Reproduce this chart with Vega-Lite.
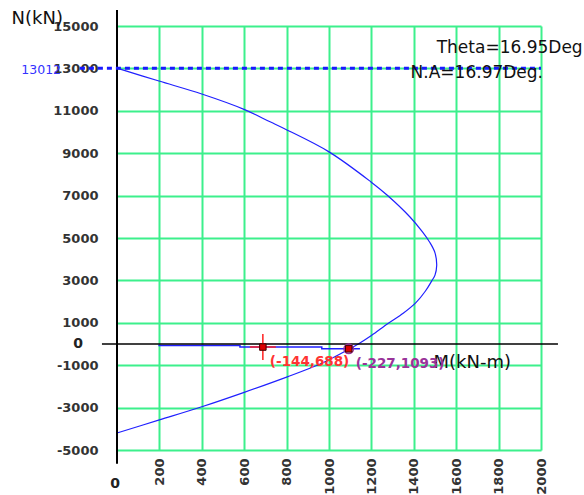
{
  "$schema": "https://vega.github.io/schema/vega-lite/v6.json",
  "width": 424,
  "height": 424,
  "autosize": "none",
  "padding": {"left": 117, "top": 26, "right": 43, "bottom": 45},
  "background": "white",
  "config": {"view": {"stroke": null}, "font": "DejaVu Sans"},
  "datasets": {
    "curve": [
      {"i": 0, "M": 0, "N": 13012},
      {"i": 1, "M": 198, "N": 12404},
      {"i": 2, "M": 400, "N": 11790},
      {"i": 3, "M": 599, "N": 11067},
      {"i": 4, "M": 722, "N": 10481},
      {"i": 5, "M": 797, "N": 10121},
      {"i": 6, "M": 1000, "N": 9063},
      {"i": 7, "M": 1198, "N": 7646},
      {"i": 8, "M": 1275, "N": 7017},
      {"i": 9, "M": 1382, "N": 5992},
      {"i": 10, "M": 1440, "N": 5300},
      {"i": 11, "M": 1475, "N": 4800},
      {"i": 12, "M": 1500, "N": 4300},
      {"i": 13, "M": 1508, "N": 3700},
      {"i": 14, "M": 1500, "N": 3250},
      {"i": 15, "M": 1484, "N": 2967},
      {"i": 16, "M": 1455, "N": 2500},
      {"i": 17, "M": 1410, "N": 1950},
      {"i": 18, "M": 1350, "N": 1450},
      {"i": 19, "M": 1280, "N": 980},
      {"i": 20, "M": 1200, "N": 400},
      {"i": 21, "M": 1138, "N": 0},
      {"i": 22, "M": 1050, "N": -480},
      {"i": 23, "M": 950, "N": -980},
      {"i": 24, "M": 800, "N": -1560},
      {"i": 25, "M": 600, "N": -2280},
      {"i": 26, "M": 400, "N": -2960},
      {"i": 27, "M": 200, "N": -3580},
      {"i": 28, "M": 0, "N": -4196}
    ],
    "flat": [
      {"i": 0, "M": 195, "N": -75},
      {"i": 1, "M": 580, "N": -75},
      {"i": 2, "M": 580, "N": -144},
      {"i": 3, "M": 966, "N": -144},
      {"i": 4, "M": 966, "N": -227},
      {"i": 5, "M": 1146, "N": -227}
    ],
    "points": [
      {"M": 688, "N": -144, "label": "(-144,688)", "kind": "red"},
      {"M": 1093, "N": -227, "label": "(-227,1093)", "kind": "purple"}
    ]
  },
  "layer": [
    {
      "data": {"name": "curve"},
      "mark": {"type": "line", "color": "#2020ff", "strokeWidth": 1.2, "interpolate": "catmull-rom"},
      "encoding": {
        "x": {
          "field": "M", "type": "quantitative",
          "scale": {"domain": [0, 2000], "nice": false, "zero": false},
          "axis": {
            "values": [200, 400, 600, 800, 1000, 1200, 1400, 1600, 1800, 2000],
            "labelExpr": "'' + datum.value",
            "title": "M(kN-m)",
            "titleX": 316, "titleY": -87.5, "titleAlign": "left", "titleBaseline": "middle", "titleAngle": 0,
            "titleFont": "DejaVu Sans", "titleFontSize": 18, "titleFontWeight": "normal", "titleColor": "#111",
            "labelAngle": -90, "labelFont": "DejaVu Sans", "labelFontSize": 13, "labelFontWeight": "bold", "labelColor": "#333",
            "labelPadding": 8, "labelFlush": false, "labelOverlap": false,
            "domain": false, "ticks": false,
            "grid": true, "gridColor": "#3cf08c", "gridWidth": 2, "gridOpacity": 1
          }
        },
        "y": {
          "field": "N", "type": "quantitative",
          "scale": {"domain": [-5000, 15000], "nice": false, "zero": false},
          "axis": {
            "values": [-5000, -3000, -1000, 1000, 3000, 5000, 7000, 9000, 11000, 13000, 15000],
            "labelExpr": "'' + datum.value",
            "title": "N(kN)",
            "titleX": -106, "titleY": -8, "titleAlign": "left", "titleBaseline": "middle", "titleAngle": 0,
            "titleFont": "DejaVu Sans", "titleFontSize": 18, "titleFontWeight": "normal", "titleColor": "#111",
            "labelFont": "DejaVu Sans", "labelFontSize": 13, "labelFontWeight": "bold", "labelColor": "#333",
            "labelPadding": 19, "labelFlush": false, "labelOverlap": false,
            "domain": false, "ticks": false,
            "grid": true, "gridColor": "#3cf08c", "gridWidth": 2, "gridOpacity": 1
          }
        },
        "order": {"field": "i", "type": "quantitative"}
      }
    },
    {
      "data": {"name": "flat"},
      "mark": {"type": "line", "color": "#2020ff", "strokeWidth": 1.5},
      "encoding": {
        "x": {"field": "M", "type": "quantitative"},
        "y": {"field": "N", "type": "quantitative"},
        "order": {"field": "i", "type": "quantitative"}
      }
    },
    {
      "data": {"values": [{}]},
      "mark": {"type": "rule", "color": "#000000", "strokeWidth": 2},
      "encoding": {
        "x": {"datum": 0, "type": "quantitative"},
        "y": {"datum": 15760, "type": "quantitative"},
        "y2": {"datum": -5650}
      }
    },
    {
      "data": {"values": [{}]},
      "mark": {"type": "rule", "color": "#000000", "strokeWidth": 1.5},
      "encoding": {
        "y": {"datum": 0, "type": "quantitative"},
        "x": {"datum": -71, "type": "quantitative"},
        "x2": {"datum": 2080}
      }
    },
    {
      "data": {"values": [{}]},
      "mark": {"type": "rule", "color": "#1a1aff", "strokeWidth": 3, "strokeDash": [5, 4]},
      "encoding": {
        "y": {"datum": 13012, "type": "quantitative"},
        "x": {"datum": -175, "type": "quantitative"},
        "x2": {"datum": 2000}
      }
    },
    {
      "data": {"name": "points"},
      "transform": [{"filter": "datum.kind === 'red'"}],
      "mark": {"type": "point", "shape": "M-1,0H1M0,-1V1", "size": 676, "filled": false, "stroke": "#ff2020", "strokeWidth": 1.5, "opacity": 1},
      "encoding": {
        "x": {"field": "M", "type": "quantitative"},
        "y": {"field": "N", "type": "quantitative"}
      }
    },
    {
      "data": {"name": "points"},
      "transform": [{"filter": "datum.kind === 'purple'"}],
      "mark": {"type": "point", "shape": "circle", "size": 90, "filled": false, "stroke": "#993399", "strokeWidth": 1.5, "opacity": 1},
      "encoding": {
        "x": {"field": "M", "type": "quantitative"},
        "y": {"field": "N", "type": "quantitative"}
      }
    },
    {
      "data": {"name": "points"},
      "mark": {"type": "point", "shape": "square", "size": 42, "filled": true, "fill": "#dd0000", "stroke": "#400000", "strokeWidth": 1, "opacity": 1},
      "encoding": {
        "x": {"field": "M", "type": "quantitative"},
        "y": {"field": "N", "type": "quantitative"}
      }
    },
    {
      "data": {"name": "points"},
      "mark": {"type": "text", "align": "left", "baseline": "middle", "dx": 7, "dy": 15, "fontSize": 13.5, "fontWeight": "bold", "font": "DejaVu Sans"},
      "encoding": {
        "x": {"field": "M", "type": "quantitative"},
        "y": {"field": "N", "type": "quantitative"},
        "text": {"field": "label"},
        "color": {"field": "kind", "type": "nominal", "scale": {"domain": ["red", "purple"], "range": ["#ff3333", "#993399"]}, "legend": null}
      }
    },
    {
      "data": {"values": [{}]},
      "mark": {"type": "text", "text": "Theta=16.95Deg", "align": "left", "baseline": "middle", "fontSize": 17, "color": "#111", "font": "DejaVu Sans"},
      "encoding": {
        "x": {"datum": 1508, "type": "quantitative"},
        "y": {"datum": 13963, "type": "quantitative"}
      }
    },
    {
      "data": {"values": [{}]},
      "mark": {"type": "text", "text": "N.A=16.97Deg.", "align": "left", "baseline": "middle", "fontSize": 17, "color": "#111", "font": "DejaVu Sans"},
      "encoding": {
        "x": {"datum": 1385, "type": "quantitative"},
        "y": {"datum": 12796, "type": "quantitative"}
      }
    },
    {
      "data": {"values": [{}]},
      "mark": {"type": "text", "text": "13012", "align": "right", "baseline": "middle", "dy": 2, "fontSize": 12.5, "color": "#3333ff", "font": "DejaVu Sans"},
      "encoding": {
        "x": {"datum": -264, "type": "quantitative"},
        "y": {"datum": 13012, "type": "quantitative"}
      }
    },
    {
      "data": {"values": [{}]},
      "mark": {"type": "text", "text": "0", "align": "right", "baseline": "middle", "fontSize": 14, "fontWeight": "bold", "color": "#222", "font": "DejaVu Sans"},
      "encoding": {
        "x": {"datum": -160, "type": "quantitative"},
        "y": {"datum": 0, "type": "quantitative"}
      }
    },
    {
      "data": {"values": [{}]},
      "mark": {"type": "text", "text": "0", "align": "center", "baseline": "middle", "fontSize": 14, "fontWeight": "bold", "color": "#222", "font": "DejaVu Sans"},
      "encoding": {
        "x": {"datum": -9, "type": "quantitative"},
        "y": {"datum": -6590, "type": "quantitative"}
      }
    }
  ]
}
